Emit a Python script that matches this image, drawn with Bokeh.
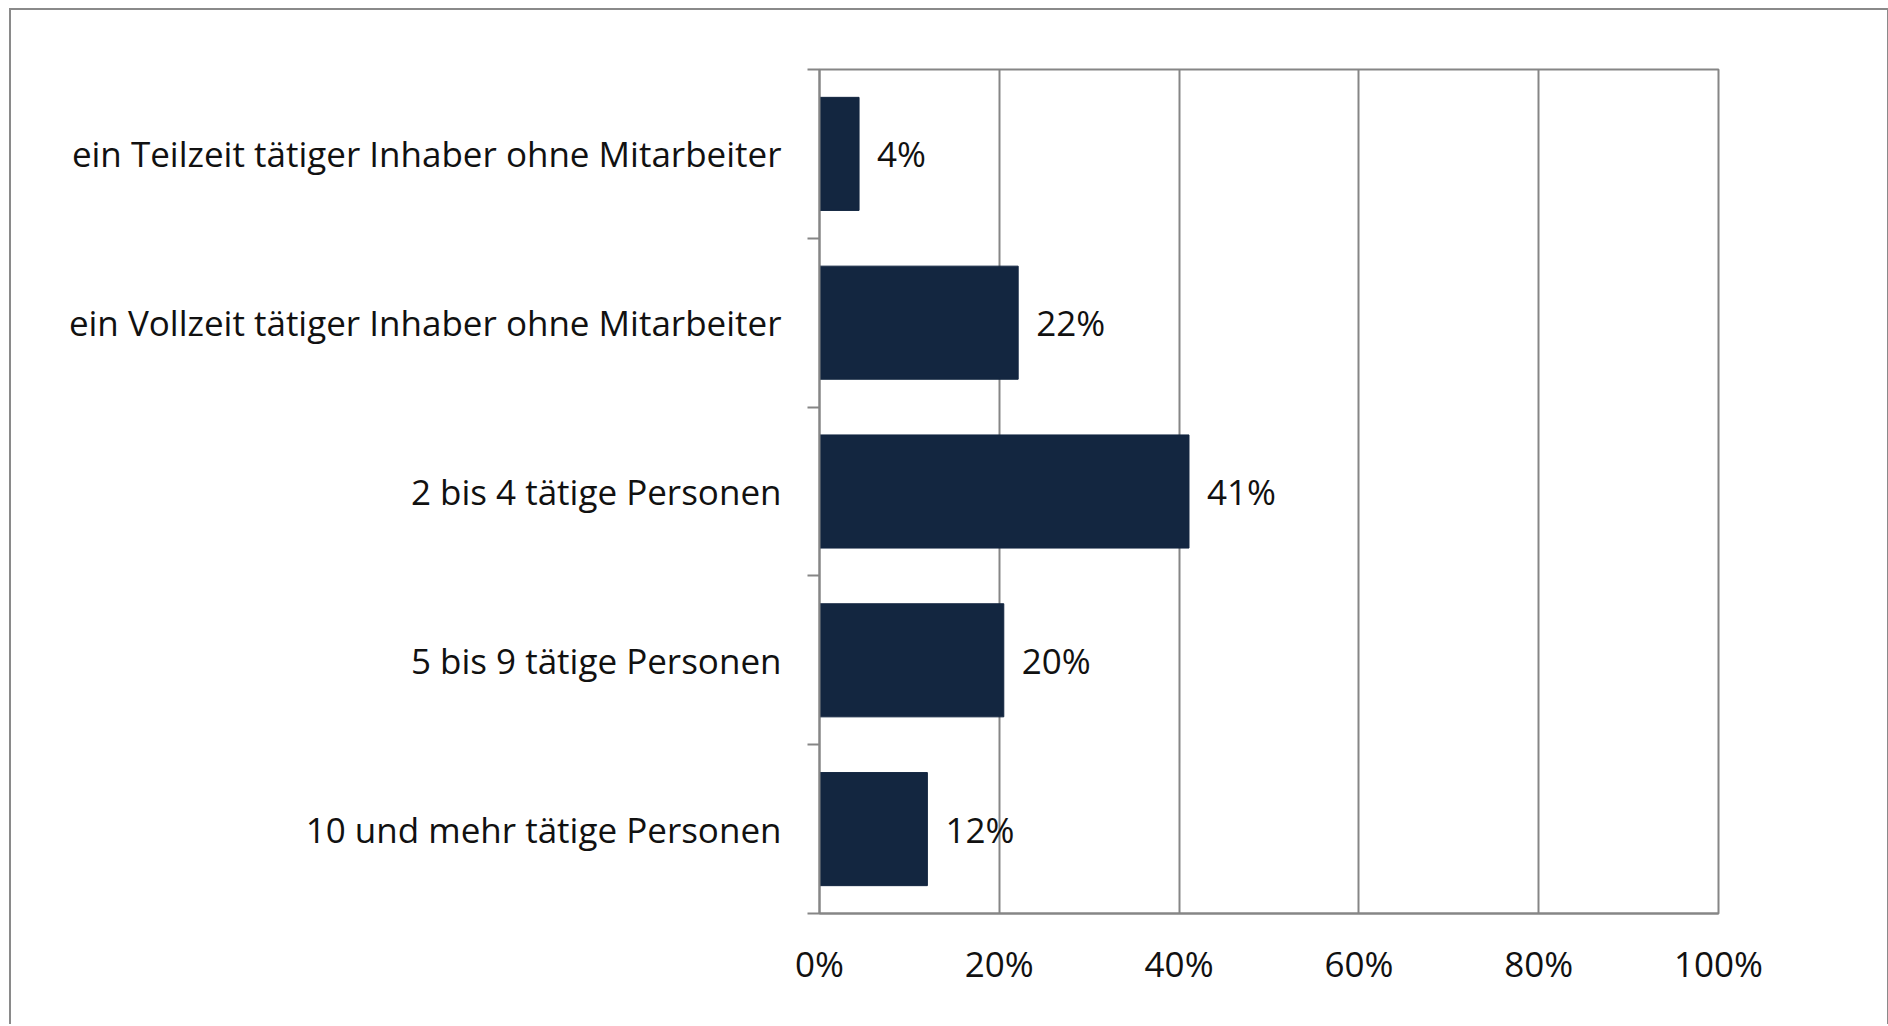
from bokeh.plotting import figure
from bokeh.models import ColumnDataSource, Range1d, FixedTicker, PrintfTickFormatter, LabelSet
from bokeh.core.properties import value
from bokeh.embed import file_html
from bokeh.resources import INLINE

categories = [
    "ein Teilzeit tätiger Inhaber ohne Mitarbeiter",
    "ein Vollzeit tätiger Inhaber ohne Mitarbeiter",
    "2 bis 4 tätige Personen",
    "5 bis 9 tätige Personen",
    "10 und mehr tätige Personen",
]
values = [4.4, 22.1, 41.1, 20.5, 12.0]
value_labels = ["4%", "22%", "41%", "20%", "12%"]
x_ticks = [0, 20, 40, 60, 80, 100]

FONT = "Open Sans"
FS = "35px"
GRAY = "#868686"
BAR = "#132640"

pos = [i + 0.5 for i in range(len(categories))]
src = ColumnDataSource(dict(y=pos, v=values, lab=value_labels))

p = figure(width=1880, height=1016, output_backend="svg", toolbar_location=None,
           x_range=Range1d(0, 100), y_range=Range1d(len(categories), 0),
           min_border_left=808, min_border_right=173, min_border_top=59, min_border_bottom=113)
p.styles = {"border-top": "2px solid #8a8a8a", "border-left": "2px solid #8a8a8a",
            "border-right": "2px solid #8a8a8a", "margin-left": "9px", "margin-top": "8px"}

p.hbar(y="y", right="v", left=0, height=0.67, source=src, fill_color=BAR, line_color=BAR)

labels = LabelSet(x="v", y="y", text="lab", source=src, x_offset=18, text_baseline="middle",
                  text_font=value(FONT), text_font_size=FS, text_color="#111111")
p.add_layout(labels)

# x axis
p.xaxis.ticker = FixedTicker(ticks=x_ticks)
p.xaxis.formatter = PrintfTickFormatter(format="%d%%")
p.xaxis.major_tick_line_color = None
p.xaxis.minor_tick_line_color = None
p.xaxis.axis_line_color = GRAY
p.xaxis.axis_line_width = 2
p.xaxis.major_label_standoff = 20
p.xaxis.major_label_text_font = FONT
p.xaxis.major_label_text_font_size = FS
p.xaxis.major_label_text_color = "#111111"

# y axis
p.yaxis.ticker = FixedTicker(ticks=pos, minor_ticks=list(range(len(categories) + 1)))
p.yaxis.major_label_overrides = {pp: c for pp, c in zip(pos, categories)}
p.yaxis.major_tick_line_color = None
p.yaxis.minor_tick_line_color = GRAY
p.yaxis.minor_tick_line_width = 2
p.yaxis.minor_tick_out = 12
p.yaxis.minor_tick_in = 0
p.yaxis.axis_line_color = GRAY
p.yaxis.axis_line_width = 2
p.yaxis.major_label_standoff = 26
p.yaxis.major_label_text_font = FONT
p.yaxis.major_label_text_font_size = FS
p.yaxis.major_label_text_color = "#111111"

p.ygrid.grid_line_color = None
p.xgrid.ticker = FixedTicker(ticks=x_ticks[1:-1])
p.xgrid.grid_line_color = GRAY
p.xgrid.grid_line_width = 2

p.outline_line_color = GRAY
p.outline_line_width = 2

open("out.html", "w").write(file_html(p, INLINE))
